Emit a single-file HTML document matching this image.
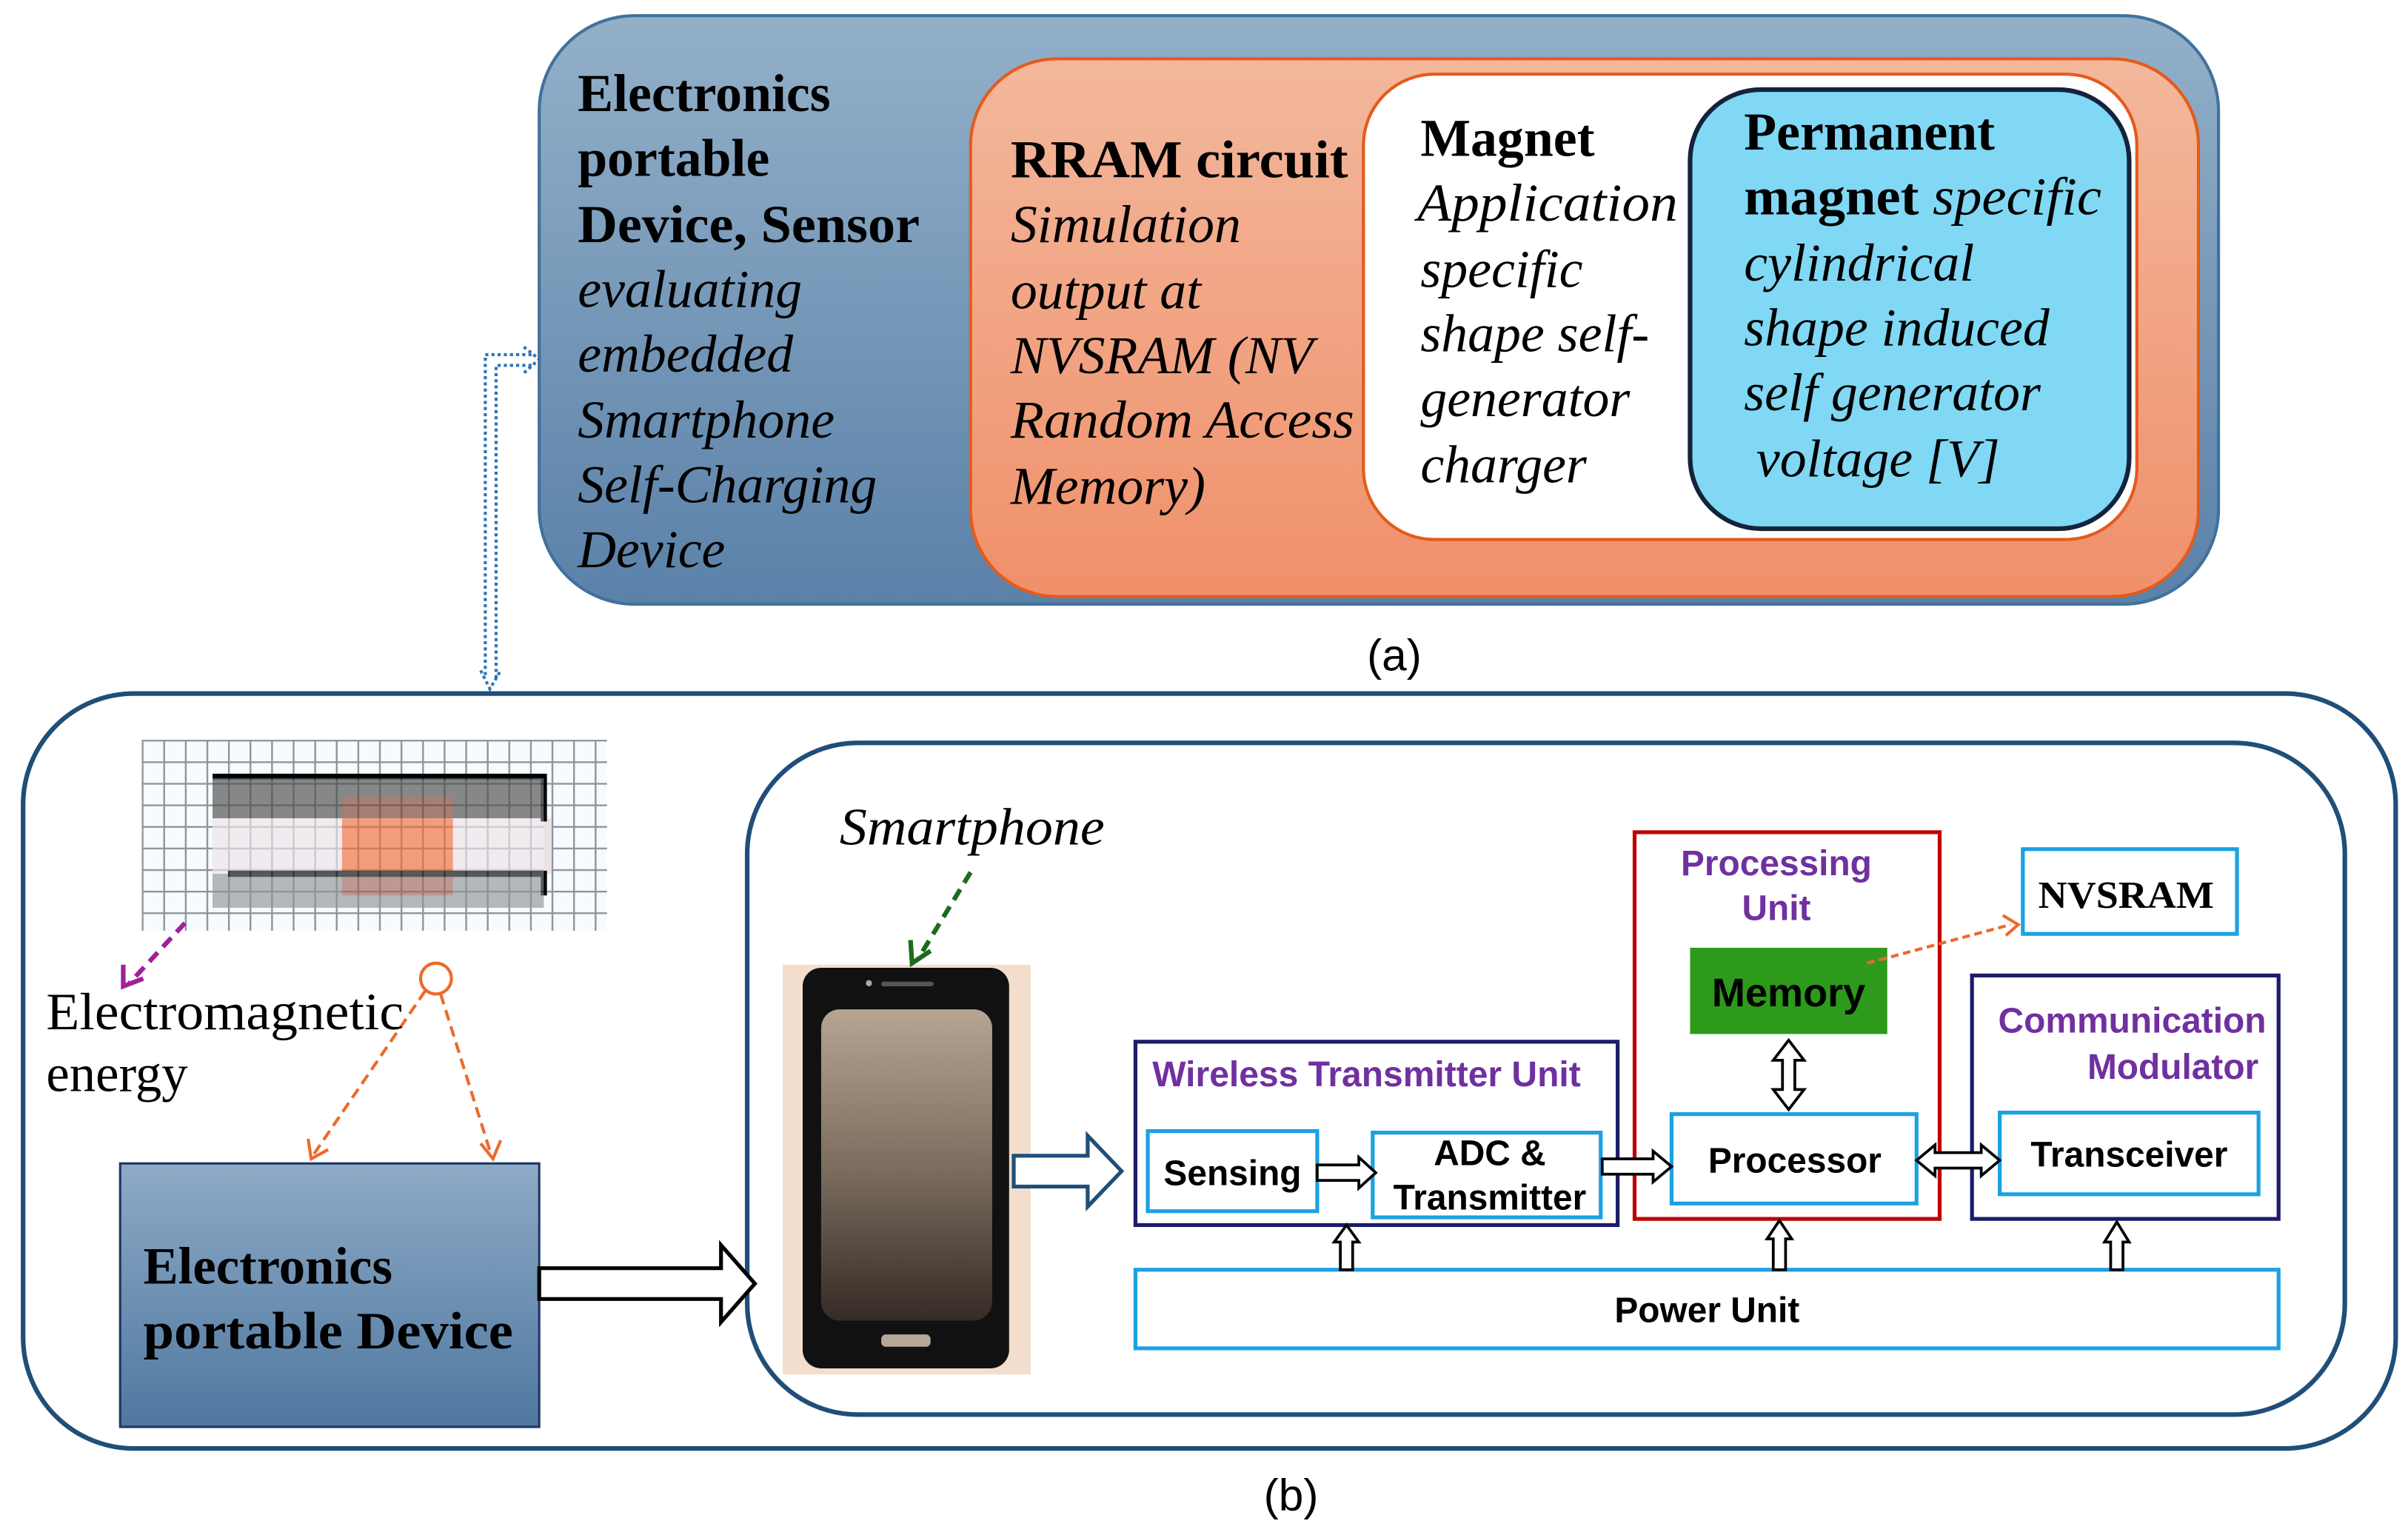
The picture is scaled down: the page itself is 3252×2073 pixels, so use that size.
<!DOCTYPE html>
<html><head><meta charset="utf-8"><style>html,body{margin:0;padding:0;background:#fff}svg{display:block}</style></head>
<body>
<svg width="3252" height="2073" viewBox="0 0 1563 996" xmlns="http://www.w3.org/2000/svg">
<defs>
<linearGradient id="gb" x1="0" y1="0" x2="0" y2="1"><stop offset="0" stop-color="#93b0c9"/><stop offset="1" stop-color="#5a81a8"/></linearGradient>
<linearGradient id="go" x1="0" y1="0" x2="0" y2="1"><stop offset="0" stop-color="#f3b89c"/><stop offset="1" stop-color="#f0906a"/></linearGradient>
<linearGradient id="gs" x1="0" y1="0" x2="0" y2="1"><stop offset="0" stop-color="#b5a592"/><stop offset="0.5" stop-color="#7d6e60"/><stop offset="1" stop-color="#352b25"/></linearGradient>
<linearGradient id="gd" x1="0" y1="0" x2="0" y2="1"><stop offset="0" stop-color="#8eaac6"/><stop offset="1" stop-color="#4f78a0"/></linearGradient>
<pattern id="grid" x="92" y="480" width="14" height="14" patternUnits="userSpaceOnUse"><rect width="14" height="14" fill="#f6fbff"/><path d="M0 0.5H14M0.5 0V14" stroke="#4a5058" stroke-width="1.3" opacity="0.6"/></pattern>
</defs>

<!-- (a) -->
<rect x="350" y="10" width="1090" height="382" rx="62" fill="url(#gb)" stroke="#41719c" stroke-width="2"/>
<rect x="630" y="38" width="797" height="349" rx="56" fill="url(#go)" stroke="#e55a1c" stroke-width="2"/>
<rect x="885" y="48" width="502" height="302" rx="46" fill="#fff" stroke="#e55a1c" stroke-width="2"/>
<rect x="1097" y="58" width="285" height="285" rx="46" fill="#80d8f4" stroke="#14233c" stroke-width="3"/>

<g font-family="Liberation Serif, serif" font-size="34.5" fill="#000">
<text x="375" y="72" font-weight="bold">Electronics</text>
<text x="375" y="114" font-weight="bold">portable</text>
<text x="375" y="157" font-weight="bold" textLength="222" lengthAdjust="spacingAndGlyphs">Device, Sensor</text>
<g font-style="italic"><text x="375" y="199">evaluating</text><text x="375" y="241">embedded</text><text x="375" y="284">Smartphone</text><text x="375" y="326">Self-Charging</text><text x="375" y="368">Device</text></g>
<text x="656" y="115" font-weight="bold" textLength="219" lengthAdjust="spacingAndGlyphs">RRAM circuit</text>
<g font-style="italic"><text x="656" y="157">Simulation</text><text x="656" y="200">output at</text><text x="656" y="242">NVSRAM (NV</text><text x="656" y="284" textLength="223" lengthAdjust="spacingAndGlyphs">Random Access</text><text x="656" y="327">Memory)</text></g>
<text x="922" y="101" font-weight="bold">Magnet</text>
<g font-style="italic"><text x="920" y="143" textLength="169" lengthAdjust="spacingAndGlyphs">Application</text><text x="922" y="186">specific</text><text x="922" y="228">shape self-</text><text x="922" y="270">generator</text><text x="922" y="313">charger</text></g>
<text x="1132" y="97" font-weight="bold">Permanent</text>
<text x="1132" y="139" textLength="232" lengthAdjust="spacingAndGlyphs"><tspan font-weight="bold">magnet</tspan><tspan font-style="italic"> specific</tspan></text>
<g font-style="italic"><text x="1132" y="182">cylindrical</text><text x="1132" y="224">shape induced</text><text x="1132" y="266">self generator</text><text x="1140" y="309">voltage [V]</text></g>
</g>
<text x="905" y="435" font-family="Liberation Sans, sans-serif" font-size="29" text-anchor="middle">(a)</text>

<!-- dotted connector -->
<g fill="none" stroke="#2e75b6" stroke-width="2" stroke-dasharray="2,2">
<path d="M345 230H315V440"/><path d="M345 237H322V440"/>
<path d="M340 225L350 233L340 242"/><path d="M312 435L318 447L325 435"/>
</g>

<!-- (b) -->
<rect x="15" y="450" width="1540" height="490" rx="72" fill="#fff" stroke="#1f4e79" stroke-width="3"/>
<rect x="485" y="482" width="1037" height="436" rx="72" fill="#fff" stroke="#1f4e79" stroke-width="3"/>

<!-- pixel image -->
<rect x="92" y="480" width="302" height="124" fill="url(#grid)"/>
<rect x="138" y="505" width="215" height="84" fill="#c9c3c6"/>
<rect x="138" y="505" width="215" height="26" fill="#4a4a48"/>
<rect x="138" y="531" width="220" height="36" fill="#ece3e6"/>
<rect x="138" y="567" width="215" height="22" fill="#8f9494"/>
<rect x="222" y="517" width="72" height="14" fill="#7a3a2c"/>
<rect x="222" y="531" width="72" height="36" fill="#f06a35"/>
<rect x="222" y="567" width="72" height="14" fill="#a0625a"/>
<path d="M138 504H353V533M148 567H353V581" fill="none" stroke="#000" stroke-width="4"/>
<rect x="138" y="505" width="215" height="84" fill="url(#grid)" opacity="0.35"/>

<path d="M120 599L84 638" stroke="#a0209a" stroke-width="3" stroke-dasharray="8,5" fill="none"/>
<path d="M80 626L80 640L93 635" stroke="#a0209a" stroke-width="3" fill="none"/>
<circle cx="283" cy="635" r="10" fill="#fff" stroke="#ed6a2a" stroke-width="2"/>
<g stroke="#ed6a2a" stroke-width="2" fill="none"><path d="M276 643L203 750" stroke-dasharray="7,4"/><path d="M286 645L319 750" stroke-dasharray="7,4"/><path d="M200 739L202 752L213 746M312 742L320 752L325 740"/></g>

<g font-family="Liberation Serif, serif" font-size="34"><text x="30" y="668" textLength="232" lengthAdjust="spacingAndGlyphs">Electromagnetic</text><text x="30" y="708">energy</text></g>

<rect x="78" y="755" width="272" height="171" fill="url(#gd)" stroke="#1f3864" stroke-width="1.5"/>
<g font-family="Liberation Serif, serif" font-size="34" font-weight="bold"><text x="93" y="833">Electronics</text><text x="93" y="875" textLength="240" lengthAdjust="spacingAndGlyphs">portable Device</text></g>
<path d="M350 823H468V808L490 833L468 858V843H350Z" fill="#fff" stroke="#000" stroke-width="2.5"/>

<!-- phone -->
<rect x="508" y="626" width="161" height="266" fill="#f3decd"/>
<rect x="521" y="628" width="134" height="260" rx="12" fill="#111"/>
<rect x="533" y="655" width="111" height="202" rx="12" fill="url(#gs)"/>
<rect x="572" y="637" width="34" height="3" rx="1.5" fill="#555"/><circle cx="564" cy="638" r="2" fill="#aaa"/>
<rect x="572" y="866" width="32" height="8" rx="3" fill="#b8a898"/>
<text x="545" y="548" font-family="Liberation Serif, serif" font-size="34" font-style="italic" textLength="172" lengthAdjust="spacingAndGlyphs">Smartphone</text>
<path d="M630 566L596 622" stroke="#1d6b1d" stroke-width="3" stroke-dasharray="8,5" fill="none"/>
<path d="M591 610L592 625L604 617" stroke="#1d6b1d" stroke-width="3" fill="none"/>
<path d="M658 750H706V737L728 760L706 783V770H658Z" fill="#fff" stroke="#1f4e79" stroke-width="2.5"/>

<!-- blocks -->
<g fill="#fff" stroke-width="2.5">
<rect x="737" y="676" width="313" height="119" stroke="#1c1c6a"/>
<rect x="745" y="734" width="110" height="52" stroke="#1ba1e2"/>
<rect x="891" y="735" width="148" height="55" stroke="#1ba1e2"/>
<rect x="1061" y="540" width="198" height="251" stroke="#c00000"/>
<rect x="1085" y="723" width="159" height="58" stroke="#1ba1e2"/>
<rect x="1313" y="551" width="139" height="55" stroke="#1ba1e2"/>
<rect x="1280" y="633" width="199" height="158" stroke="#1c1c6a"/>
<rect x="1298" y="722" width="168" height="53" stroke="#1ba1e2"/>
<rect x="737" y="824" width="742" height="51" stroke="#1ba1e2"/>
</g>
<rect x="1097" y="615" width="128" height="56" fill="#2e9a1b"/>

<g font-family="Liberation Sans, sans-serif" font-weight="bold" font-size="23">
<g fill="#7030a0">
<text x="748" y="705" textLength="278" lengthAdjust="spacingAndGlyphs">Wireless Transmitter Unit</text>
<text x="1153" y="568" text-anchor="middle">Processing</text>
<text x="1153" y="597" text-anchor="middle">Unit</text>
<text x="1297" y="670" textLength="174" lengthAdjust="spacingAndGlyphs">Communication</text>
<text x="1466" y="700" text-anchor="end">Modulator</text>
</g>
<text x="800" y="769" text-anchor="middle">Sensing</text>
<text x="967" y="756" text-anchor="middle">ADC &amp;</text>
<text x="967" y="785" text-anchor="middle">Transmitter</text>
<text x="1165" y="761" text-anchor="middle">Processor</text>
<text x="1382" y="757" text-anchor="middle">Transceiver</text>
<text x="1108" y="858" text-anchor="middle">Power Unit</text>
<text x="1161" y="653" text-anchor="middle" font-size="26">Memory</text>
</g>
<text x="1380" y="589" font-family="Liberation Serif, serif" font-weight="bold" font-size="25" text-anchor="middle" textLength="114" lengthAdjust="spacingAndGlyphs">NVSRAM</text>

<!-- orange dashed -->
<path d="M1212 625L1305 600" stroke="#ed6a2a" stroke-width="2" stroke-dasharray="5,3" fill="none"/>
<path d="M1300 594L1310 600L1302 607" stroke="#ed6a2a" stroke-width="2" fill="none"/>

<!-- small hollow arrows -->
<g fill="#fff" stroke="#000" stroke-width="1.8">
<path d="M855 756H882V751L893 761L882 771V766H855Z"/>
<path d="M1040 752H1073V747L1085 757L1073 767V762H1040Z"/>
<path d="M1244 753L1256 743V748H1286V743L1298 753L1286 763V758H1256V763Z"/>
<path d="M1161 675L1171 688H1165V707H1171L1161 720L1151 707H1157V688H1151Z"/>
<path d="M870 824V806H866L874 795L882 806H878V824Z"/>
<path d="M1151 824V804H1147L1155 792L1163 804H1159V824Z"/>
<path d="M1370 824V806H1366L1374 793L1382 806H1378V824Z"/>
</g>
<text x="838" y="980" font-family="Liberation Sans, sans-serif" font-size="29" text-anchor="middle">(b)</text>
</svg>
</body></html>
